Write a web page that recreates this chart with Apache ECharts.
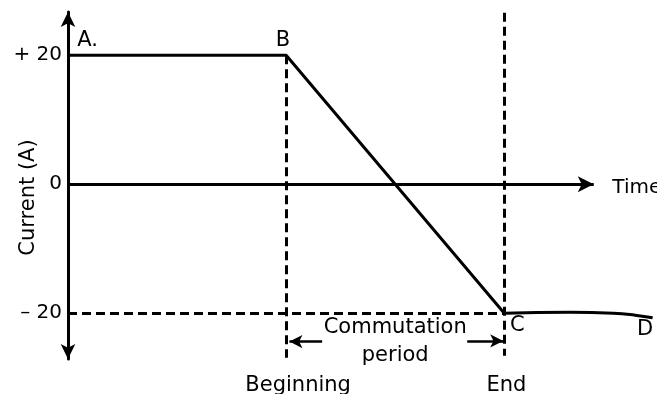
<!DOCTYPE html>
<html>
<head>
<meta charset="utf-8">
<script src="https://cdn.jsdelivr.net/npm/echarts@6/dist/echarts.min.js"></script>
<style>
  html, body { margin: 0; padding: 0; background: #fff; }
  #chart { width: 657px; height: 394px; }
</style>
</head>
<body>
<div id="chart"></div>
<script>
// 电流波形 A-B-C-D
const currentLine = [[0, 20], [2, 20], [4, -20]];
const tailCurve = [[4, -20], [4.6, -19.85], [5.0, -20.0], [5.2, -20.3], [5.36, -20.7]];
const yTicks = [20, 0, -20];
const yTickLabels = { '20': '+ 20', '0': '0', '-20': '\u2013 20' };

// 虚线: 开始 / 结束 / -20
const beginLine = [[2, 20], [2, -26.9]];
const endLine = [[4, 26.6], [4, -26.6]];
const minusLine = [[0, -20], [4, -20]];
const timeAxis = [[0, 0], [4.82, 0]];
const periodLeft = [[2.33, -24.4], [2.03, -24.4]];
const periodRight = [[3.66, -24.3], [3.99, -24.3]];

// 文字标注
const notes = [
  { name: 'A.', value: [0.18, 22.3] },
  { name: 'B', value: [1.97, 22.3] },
  { name: 'C', value: [4.12, -21.9] },
  { name: 'D', value: [5.29, -22.6] },
  { name: 'Commutation', value: [3.0, -22.3] },
  { name: 'period', value: [3.0, -26.5] },
  { name: 'Beginning', value: [2.11, -31.2] },
  { name: 'End', value: [4.02, -31.2] }
];
const timeNote = [{ name: 'Time', value: [4.99, -0.6] }];

const ink = '#000';
const font = 'DejaVu Sans';

const seg = (pts) => [{ coord: pts[0] }, { coord: pts[1] }];

let myChart = echarts.init(document.getElementById('chart'));
let option = {
  backgroundColor: '#fff',
  animation: false,
  grid: { left: 68, right: 0, top: 12, bottom: 35, containLabel: false, outerBoundsMode: 'none' },
  xAxis: {
    type: 'value',
    min: 0,
    max: 5.4,
    show: false
  },
  yAxis: {
    type: 'value',
    min: -27.1,
    max: 26.7,
    name: 'Current (A)',
    nameLocation: 'middle',
    nameGap: 29,
    nameRotate: 90,
    nameMoveOverlap: false,
    nameTextStyle: { color: ink, fontFamily: font, fontSize: 21, padding: [0, 24, 0, 0] },
    splitLine: { show: false },
    axisTick: { show: false },
    axisLine: {
      show: true,
      symbol: ['arrow', 'arrow'],
      symbolSize: [11, 15],
      lineStyle: { color: ink, width: 3 }
    },
    axisLabel: {
      customValues: yTicks,
      margin: 6,
      color: ink,
      fontFamily: font,
      fontSize: 20,
      formatter: (v) => yTickLabels[String(v)]
    }
  },
  series: [
    {
      type: 'line',
      data: currentLine,
      symbol: 'none',
      lineStyle: { color: ink, width: 3 },
      z: 3,
      markLine: {
        silent: true,
        symbol: ['none', 'none'],
        label: { show: false },
        lineStyle: { color: ink, width: 3, type: [9, 5] },
        data: [seg(beginLine), seg(endLine), seg(minusLine)]
      }
    },
    {
      type: 'line',
      data: tailCurve,
      smooth: true,
      symbol: 'none',
      lineStyle: { color: ink, width: 3 }
    },
    {
      // 时间轴和换向区间箭头
      type: 'line',
      data: [],
      markLine: {
        silent: true,
        symbol: ['none', 'arrow'],
        symbolSize: [12, 16],
        label: { show: false },
        lineStyle: { color: ink, width: 3, type: 'solid' },
        data: [seg(timeAxis)]
      }
    },
    {
      type: 'line',
      data: [],
      markLine: {
        silent: true,
        symbol: ['none', 'arrow'],
        symbolSize: [10, 13],
        label: { show: false },
        lineStyle: { color: ink, width: 2.5, type: 'solid' },
        data: [seg(periodLeft), seg(periodRight)]
      }
    },
    {
      type: 'scatter',
      data: notes,
      symbolSize: 0,
      clip: false,
      itemStyle: { opacity: 1 },
      label: {
        show: true,
        position: 'inside',
        formatter: '{b}',
        color: ink,
        fontFamily: font,
        fontSize: 21
      }
    },
    {
      type: 'scatter',
      data: timeNote,
      symbolSize: 0,
      clip: false,
      itemStyle: { opacity: 1 },
      label: {
        show: true,
        position: 'right',
        distance: 0,
        formatter: '{b}',
        color: ink,
        fontFamily: font,
        fontSize: 20
      }
    }
  ]
};
myChart.setOption(option);
</script>
</body>
</html>
